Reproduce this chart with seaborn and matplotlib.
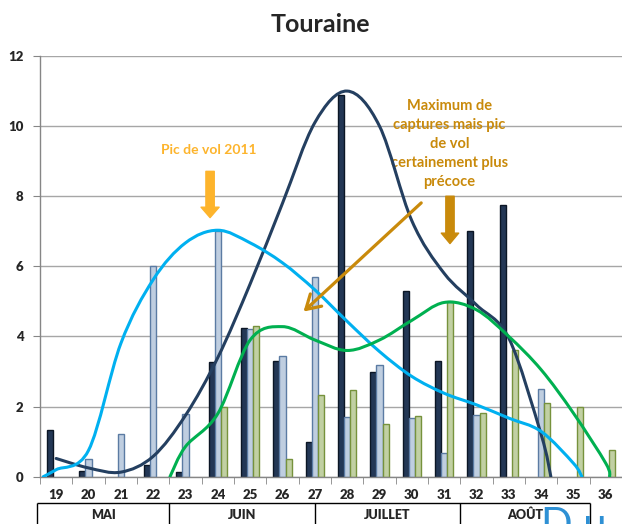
import numpy as np
import pandas as pd
import matplotlib
matplotlib.use("Agg")
import matplotlib.pyplot as plt
from matplotlib.path import Path
from matplotlib.patches import PathPatch
import seaborn as sns

# ---- data -------------------------------------------------------------
weeks = [str(w) for w in range(19, 37)]
series = ["serie_fonce", "serie_clair", "serie_vert"]
nan = np.nan
captures_fonce = [1.33, 0.17, nan, 0.33, 0.14, 3.26, 4.23, 3.31, 1.0, 10.9,
                  3.0, 5.29, 3.29, 7.0, 7.76, nan, nan, nan]
captures_clair = [nan, 0.5, 1.22, 6.0, 1.78, 7.0, 4.21, 3.44, 5.7, 1.71,
                  3.2, 1.67, 0.67, 1.75, nan, 2.5, nan, nan]
captures_vert = [nan, nan, nan, nan, nan, 2.0, 4.29, 0.5, 2.33, 2.46,
                 1.5, 1.73, 5.0, 1.82, 3.61, 2.11, 2.0, 0.75]

# smoothed trend curves: (week, value) knots
courbe_fonce_sem = [19, 20, 21, 22, 23, 24, 25, 26, 27, 28, 29, 30, 31, 32, 33, 34, 34.3]
courbe_fonce_val = [0.52, 0.25, 0.13, 0.58, 1.75, 3.4, 5.5, 7.8, 10.1, 11.0,
                    10.0, 7.3, 5.8, 4.9, 3.95, 1.2, 0.0]
courbe_clair_sem = [18.6, 19, 20, 21, 22, 23, 24, 25, 26, 27, 28, 29, 30, 31,
                    32, 33, 34, 35, 35.26]
courbe_clair_val = [0.0, 0.2, 0.75, 3.8, 5.62, 6.67, 7.03, 6.67, 6.1, 5.33, 4.43,
                    3.57, 2.86, 2.38, 2.05, 1.67, 1.29, 0.38, 0.0]
courbe_vert_sem = [22.52, 23, 24, 25, 26, 27, 28, 29, 30, 31, 32, 33, 34, 35, 36, 36.12]
courbe_vert_val = [0.0, 0.86, 1.8, 3.9, 4.28, 3.9, 3.6, 3.9, 4.46, 4.97, 4.76,
                   4.0, 3.05, 1.81, 0.38, 0.0]

mois = ["MAI", "JUIN", "JUILLET", "AOÛT"]
mois_bornes = [18.4, 22.5, 27.0, 31.5, 35.5]

# ---- style ------------------------------------------------------------
sns.set_style("white")
plt.rcParams["font.family"] = ["Lato", "DejaVu Sans"]

fill_colors = {"serie_fonce": "#1B365D", "serie_clair": "#B9CDE5", "serie_vert": "#C4D79B"}
edge_colors = {"serie_fonce": "#0B1625", "serie_clair": "#5B7BA3", "serie_vert": "#76923C"}
curve_colors = {"fonce": "#243F60", "clair": "#00B0F0", "vert": "#00B050"}

W, H = 622, 524
fig = plt.figure(figsize=(W / 100, H / 100), dpi=100)
ax = fig.add_axes([40 / W, 47.3 / H, 582 / W, 420.7 / H])

df = pd.DataFrame({
    "semaine": weeks * 3,
    "serie": np.repeat(series, len(weeks)),
    "valeur": captures_fonce + captures_clair + captures_vert,
}).dropna()

sns.barplot(data=df, x="semaine", y="valeur", hue="serie", order=weeks,
            hue_order=series, palette=fill_colors, width=0.56, errorbar=None,
            dodge=True, legend=False, ax=ax, zorder=2)
for cont, s in zip(ax.containers, series):
    for bar in cont:
        bar.set_edgecolor(edge_colors[s])
        bar.set_linewidth(1.0)

def smooth_curve(weeks_k, vals_k, color):
    """Catmull-Rom knots drawn as cubic Bezier segments in data space."""
    x = np.asarray(weeks_k, float) - 19
    y = np.asarray(vals_k, float)
    p = np.column_stack([x, y])
    pts = np.vstack([p[0], p, p[-1]])
    verts = [tuple(p[0])]
    codes = [Path.MOVETO]
    for i in range(1, len(pts) - 2):
        p0, p1, p2, p3 = pts[i - 1], pts[i], pts[i + 1], pts[i + 2]
        c1 = p1 + (p2 - p0) / 6.0
        c2 = p2 - (p3 - p1) / 6.0
        verts += [tuple(c1), tuple(c2), tuple(p2)]
        codes += [Path.CURVE4] * 3
    patch = PathPatch(Path(verts, codes), fill=False, edgecolor=color,
                      linewidth=2.2, zorder=4, capstyle="round")
    ax.add_patch(patch)

smooth_curve(courbe_fonce_sem, courbe_fonce_val, curve_colors["fonce"])
smooth_curve(courbe_clair_sem, courbe_clair_val, curve_colors["clair"])
smooth_curve(courbe_vert_sem, courbe_vert_val, curve_colors["vert"])

# ---- axes -------------------------------------------------------------
ax.set_xlim(-0.5, -0.5 + 582 / 32.5)
ax.set_ylim(0, 12)
ax.set_xlabel("")
ax.set_ylabel("")
for side in ("top", "right"):
    ax.spines[side].set_visible(False)
for side in ("left", "bottom"):
    ax.spines[side].set_color("#868686")
    ax.spines[side].set_linewidth(1.0)
ax.set_yticks(range(0, 13, 2))
ax.set_yticklabels([str(v) for v in range(0, 13, 2)], fontsize=9.5, fontweight="heavy")
ax.yaxis.grid(True, color="#A6A6A6", linewidth=1.0)
ax.set_axisbelow(True)
ax.tick_params(axis="y", length=5, color="#868686", pad=7, left=True)
ax.set_xticks(range(len(weeks)))
ax.set_xticklabels(weeks, fontsize=9.5, fontweight="heavy")
ax.set_xticks(np.arange(-0.5, len(weeks), 1.0), minor=True)
ax.tick_params(axis="x", which="major", length=0, pad=9)
ax.tick_params(axis="x", which="minor", length=5, color="#868686", bottom=True)

# month band below the week labels
y_top = -0.75
ax.hlines(y_top, mois_bornes[0] - 19, mois_bornes[-1] - 19, color="black",
          linewidth=1.0, clip_on=False)
ax.vlines([b - 19 for b in mois_bornes], -3, y_top, color="black",
          linewidth=1.0, clip_on=False)
for m, a, b in zip(mois, mois_bornes[:-1], mois_bornes[1:]):
    ax.text((a + b) / 2 - 19, -1.095, m, ha="center", va="center",
            fontsize=9, fontweight="heavy", clip_on=False)

# ---- annotations ------------------------------------------------------
fig.text(320 / W, 1 - 24 / H, "Touraine", ha="center", va="center",
         fontsize=18, fontweight="bold")

orange = "#FDB42C"
gold = "#C98A0B"
ax.text(4.73, 9.33, "Pic de vol 2011", ha="center", va="center",
        fontsize=10, fontweight="bold", color=orange)
ax.annotate("", xy=(4.76, 7.39), xytext=(4.76, 8.71),
            arrowprops=dict(arrowstyle="simple,head_length=0.75,head_width=1.3,tail_width=0.6",
                            mutation_scale=10, color=orange, shrinkA=0, shrinkB=0))

ax.text(12.17, 9.49,
        "Maximum de\ncaptures mais pic\nde vol\ncertainement plus\nprécoce",
        ha="center", va="center", fontsize=10.5, fontweight="bold", color=gold,
        linespacing=1.45)
ax.annotate("", xy=(12.18, 6.65), xytext=(12.18, 8.0),
            arrowprops=dict(arrowstyle="simple,head_length=0.75,head_width=1.25,tail_width=0.6",
                            mutation_scale=10, color=gold, shrinkA=0, shrinkB=0))
ax.annotate("", xy=(7.65, 4.71), xytext=(11.29, 7.81),
            arrowprops=dict(arrowstyle="->,head_length=0.5,head_width=0.3",
                            mutation_scale=20, color=gold, lw=2.3,
                            shrinkA=0, shrinkB=0), zorder=5)

fig.text(541 / W, 1 - 507 / H, "D u", ha="left", va="top", fontsize=30,
         color="#2E90D4")

fig.savefig("out.png", dpi=100)
